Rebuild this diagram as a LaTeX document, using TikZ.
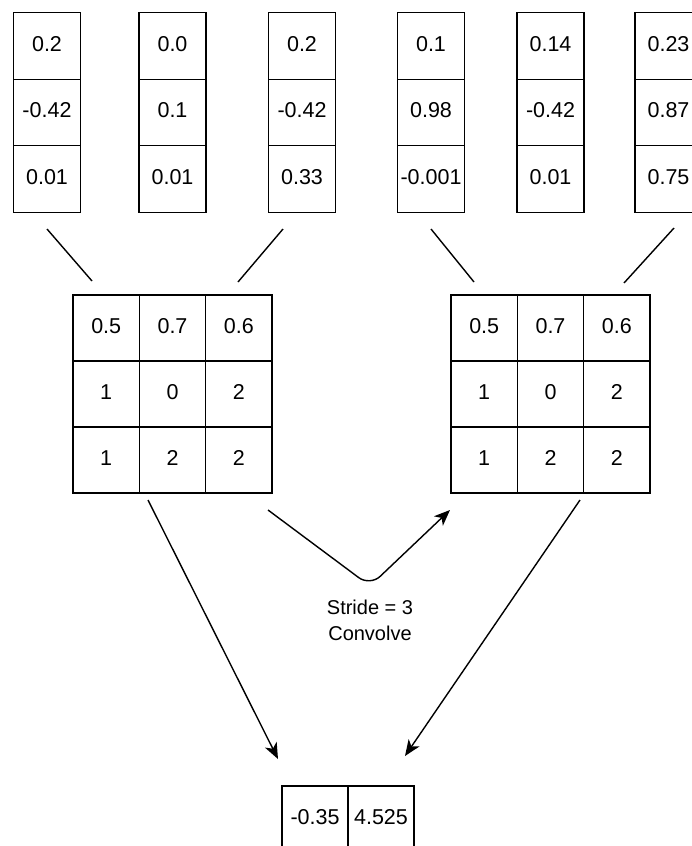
\documentclass[tikz,border=0pt]{standalone}
\usepackage{fontspec}
\setmainfont{Liberation Sans}
\usetikzlibrary{arrows.meta,calc}
\tikzset{
  cell/.style={draw, line width=1.4pt, inner sep=0pt, minimum width=67pt, minimum height=66.5pt,
    text height=15.5pt, text depth=5pt, font=\fontsize{21.5}{24}\selectfont},
  gcell/.style={cell, minimum width=66.3pt, minimum height=66pt},
  link/.style={line width=1.4pt},
  arr/.style={line width=1.4pt, -{Stealth[length=16pt, width=13pt, inset=4.5pt]}},
}
\begin{document}
\begin{tikzpicture}[x=1pt, y=-1pt]
\useasboundingbox (0,0) rectangle (692,846);
\fill[white] (0,0) rectangle (692,846);

% input vectors
\foreach \n/\x/\a/\b/\c in {1/47/0.2/-0.42/0.01, 2/172.5/0.0/0.1/0.01, 3/302/0.2/-0.42/0.33,
                            4/431/0.1/0.98/-0.001, 5/550.5/0.14/-0.42/0.01, 6/668.5/0.23/0.87/0.75}{
  \node[cell] (c\n a) at (\x,46)    {\a};
  \node[cell] (c\n b) at (\x,112.5) {\b};
  \node[cell] (c\n c) at (\x,179)   {\c};
}

% kernels
\foreach \g/\x in {1/106.2, 2/484.2}{
  \node[gcell] (g\g-11) at (\x,328) {0.5};
  \node[gcell] (g\g-12) at ($(\x,328)+(66.3,0)$) {0.7};
  \node[gcell] (g\g-13) at ($(\x,328)+(132.6,0)$) {0.6};
  \node[gcell] (g\g-21) at (\x,394) {1};
  \node[gcell] (g\g-22) at ($(\x,394)+(66.3,0)$) {0};
  \node[gcell] (g\g-23) at ($(\x,394)+(132.6,0)$) {2};
  \node[gcell] (g\g-31) at (\x,460) {1};
  \node[gcell] (g\g-32) at ($(\x,460)+(66.3,0)$) {2};
  \node[gcell] (g\g-33) at ($(\x,460)+(132.6,0)$) {2};
}

% output
\node[gcell] (o1) at (315,819) {-0.35};
\node[gcell] (o2) at (381,819) {4.525};

% connector end points
\coordinate (t1s) at (47,229);   \coordinate (t1e) at (92,281);
\coordinate (t3s) at (283,229);  \coordinate (t3e) at (238,282);
\coordinate (t4s) at (431,229);  \coordinate (t4e) at (474,282);
\coordinate (t6s) at (674,228);  \coordinate (t6e) at (624,283);
\coordinate (d1s) at (148,500);  \coordinate (d1e) at (278,759);
\coordinate (d2s) at (580,500);  \coordinate (d2e) at (405,756);
\coordinate (vs) at (268,510);   \coordinate (vm) at (370,586);  \coordinate (ve) at (450,510);

\draw[link] (t1s) -- (t1e);
\draw[link] (t3s) -- (t3e);
\draw[link] (t4s) -- (t4e);
\draw[link] (t6s) -- (t6e);

\draw[arr] (d1s) -- (d1e);
\draw[arr] (d2s) -- (d2e);
\draw[arr, rounded corners=14pt] (vs) -- (vm) -- (ve);

\node[align=center, font=\fontsize{20}{26}\selectfont] (lbl) at (370,620) {Stride = 3\\Convolve};
\end{tikzpicture}
\end{document}
